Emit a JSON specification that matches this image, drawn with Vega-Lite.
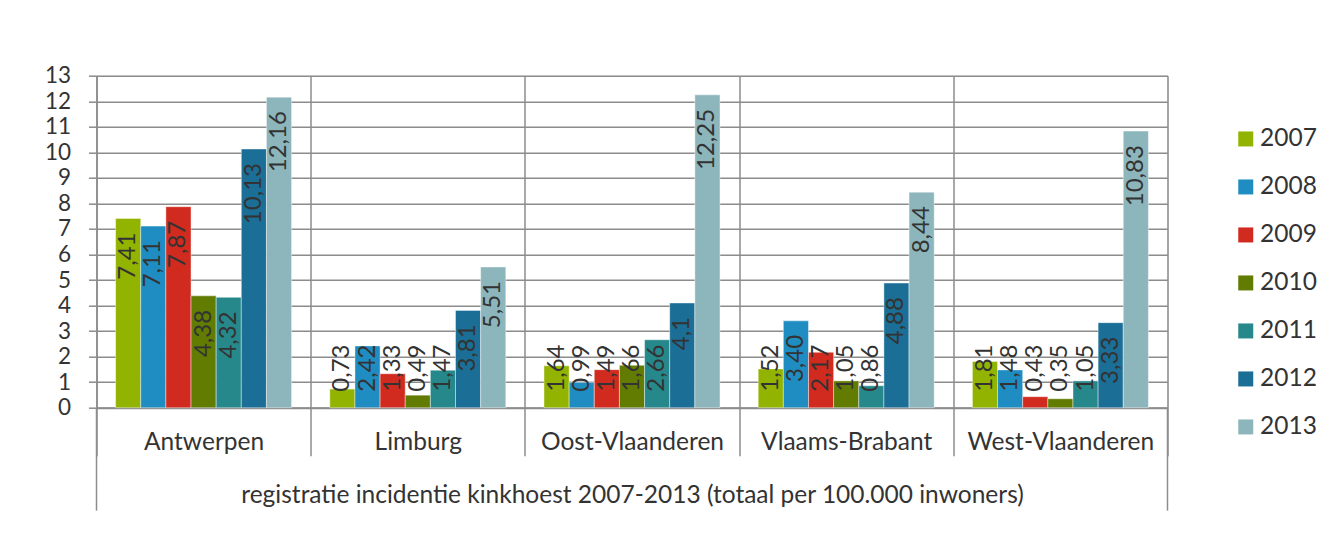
{
  "$schema": "https://vega.github.io/schema/vega-lite/v6.json",
  "autosize": {"type": "none"},
  "width": 1071,
  "height": 332,
  "padding": {"left": 96.5, "top": 75.7, "right": 154.5, "bottom": 134.3},
  "background": "white",
  "title": {
    "text": "kinkhoest",
    "anchor": "start",
    "frame": "group",
    "orient": "top",
    "dx": -85,
    "offset": 59,
    "font": "Lato",
    "fontSize": 22,
    "fontWeight": "normal",
    "color": "#2E8BCF",
    "baseline": "alphabetic"
  },
  "data": {
    "values": [
      {"regio": "Antwerpen", "jaar": "2007", "waarde": 7.41, "label": "7,41"},
      {"regio": "Antwerpen", "jaar": "2008", "waarde": 7.11, "label": "7,11"},
      {"regio": "Antwerpen", "jaar": "2009", "waarde": 7.87, "label": "7,87"},
      {"regio": "Antwerpen", "jaar": "2010", "waarde": 4.38, "label": "4,38"},
      {"regio": "Antwerpen", "jaar": "2011", "waarde": 4.32, "label": "4,32"},
      {"regio": "Antwerpen", "jaar": "2012", "waarde": 10.13, "label": "10,13"},
      {"regio": "Antwerpen", "jaar": "2013", "waarde": 12.16, "label": "12,16"},
      {"regio": "Limburg", "jaar": "2007", "waarde": 0.73, "label": "0,73"},
      {"regio": "Limburg", "jaar": "2008", "waarde": 2.42, "label": "2,42"},
      {"regio": "Limburg", "jaar": "2009", "waarde": 1.33, "label": "1,33"},
      {"regio": "Limburg", "jaar": "2010", "waarde": 0.49, "label": "0,49"},
      {"regio": "Limburg", "jaar": "2011", "waarde": 1.47, "label": "1,47"},
      {"regio": "Limburg", "jaar": "2012", "waarde": 3.81, "label": "3,81"},
      {"regio": "Limburg", "jaar": "2013", "waarde": 5.51, "label": "5,51"},
      {"regio": "Oost-Vlaanderen", "jaar": "2007", "waarde": 1.64, "label": "1,64"},
      {"regio": "Oost-Vlaanderen", "jaar": "2008", "waarde": 0.99, "label": "0,99"},
      {"regio": "Oost-Vlaanderen", "jaar": "2009", "waarde": 1.49, "label": "1,49"},
      {"regio": "Oost-Vlaanderen", "jaar": "2010", "waarde": 1.66, "label": "1,66"},
      {"regio": "Oost-Vlaanderen", "jaar": "2011", "waarde": 2.66, "label": "2,66"},
      {"regio": "Oost-Vlaanderen", "jaar": "2012", "waarde": 4.1, "label": "4,1"},
      {"regio": "Oost-Vlaanderen", "jaar": "2013", "waarde": 12.25, "label": "12,25"},
      {"regio": "Vlaams-Brabant", "jaar": "2007", "waarde": 1.52, "label": "1,52"},
      {"regio": "Vlaams-Brabant", "jaar": "2008", "waarde": 3.40, "label": "3,40"},
      {"regio": "Vlaams-Brabant", "jaar": "2009", "waarde": 2.17, "label": "2,17"},
      {"regio": "Vlaams-Brabant", "jaar": "2010", "waarde": 1.05, "label": "1,05"},
      {"regio": "Vlaams-Brabant", "jaar": "2011", "waarde": 0.86, "label": "0,86"},
      {"regio": "Vlaams-Brabant", "jaar": "2012", "waarde": 4.88, "label": "4,88"},
      {"regio": "Vlaams-Brabant", "jaar": "2013", "waarde": 8.44, "label": "8,44"},
      {"regio": "West-Vlaanderen", "jaar": "2007", "waarde": 1.81, "label": "1,81"},
      {"regio": "West-Vlaanderen", "jaar": "2008", "waarde": 1.48, "label": "1,48"},
      {"regio": "West-Vlaanderen", "jaar": "2009", "waarde": 0.43, "label": "0,43"},
      {"regio": "West-Vlaanderen", "jaar": "2010", "waarde": 0.35, "label": "0,35"},
      {"regio": "West-Vlaanderen", "jaar": "2011", "waarde": 1.05, "label": "1,05"},
      {"regio": "West-Vlaanderen", "jaar": "2012", "waarde": 3.33, "label": "3,33"},
      {"regio": "West-Vlaanderen", "jaar": "2013", "waarde": 10.83, "label": "10,83"}
    ]
  },
  "layer": [
    {
      "encoding": {
        "x": {
          "field": "regio",
          "type": "nominal",
          "sort": null,
          "scale": {"paddingInner": 0, "paddingOuter": 0},
          "axis": {
            "title": "registratie incidentie kinkhoest 2007-2013 (totaal per 100.000 inwoners)",
            "titleFont": "Lato",
            "titleFontSize": 24.5,
            "titleFontWeight": "normal",
            "titleColor": "#333333",
            "titlePadding": 27,
            "labelAngle": 0,
            "labelFont": "Lato",
            "labelFontSize": 24.5,
            "labelColor": "#333333",
            "labelPadding": -25,
            "labelBaseline": "top",
            "labelLimit": 0,
            "labelOverlap": false,
            "tickBand": "extent",
            "tickSize": 48,
            "tickColor": "#8c8c8c",
            "tickWidth": 1.5,
            "grid": true,
            "gridColor": "#8c8c8c",
            "gridWidth": 1.5,
            "domainColor": "#8c8c8c",
            "domainWidth": 2
          }
        },
        "y": {
          "field": "waarde",
          "type": "quantitative",
          "scale": {"domain": [0, 13], "nice": false, "zero": true},
          "axis": {
            "title": null,
            "values": [0, 1, 2, 3, 4, 5, 6, 7, 8, 9, 10, 11, 12, 13],
            "labelFont": "Lato",
            "labelFontSize": 22.5,
            "labelColor": "#333333",
            "labelPadding": 18,
            "labelOverlap": false,
            "labelFlush": false,
            "tickSize": 8,
            "tickColor": "#8c8c8c",
            "tickWidth": 1.5,
            "grid": true,
            "gridColor": "#8c8c8c",
            "gridWidth": 1.5,
            "domainColor": "#8c8c8c",
            "domainWidth": 1.5
          }
        }
      },
      "layer": [
        {
          "mark": {"type": "bar", "stroke": "#ffffff", "strokeWidth": 0.6, "strokeOpacity": 0.7},
          "encoding": {
            "xOffset": {
              "field": "jaar",
              "type": "nominal",
              "scale": {"paddingInner": 0, "paddingOuter": 0.76}
            },
            "color": {
              "field": "jaar",
              "type": "nominal",
              "scale": {
                "domain": ["2007", "2008", "2009", "2010", "2011", "2012", "2013"],
                "range": ["#92B400", "#1F8DC1", "#D02B1E", "#617C00", "#26888A", "#1B6E96", "#8CB6BB"]
              },
              "legend": {
                "title": null,
                "orient": "none",
                "legendX": 1137,
                "legendY": 51,
                "symbolType": "square",
                "symbolSize": 225,
                "symbolStrokeWidth": 0,
                "labelFont": "Lato",
                "labelFontSize": 24.5,
                "labelColor": "#333333",
                "labelOffset": 2,
                "rowPadding": 23
              }
            }
          }
        },
        {
          "transform": [{"filter": "datum.waarde >= 3"}],
          "mark": {
            "type": "text",
            "angle": 270,
            "align": "right",
            "baseline": "middle",
            "dx": -14,
            "font": "Lato",
            "fontSize": 24,
            "color": "#333333"
          },
          "encoding": {
            "xOffset": {"field": "jaar", "type": "nominal"},
            "text": {"field": "label"}
          }
        },
        {
          "transform": [{"filter": "datum.waarde < 3"}],
          "mark": {
            "type": "text",
            "angle": 270,
            "align": "left",
            "baseline": "middle",
            "dx": 16,
            "font": "Lato",
            "fontSize": 24,
            "color": "#333333"
          },
          "encoding": {
            "xOffset": {"field": "jaar", "type": "nominal"},
            "y": {"datum": 0},
            "text": {"field": "label"}
          }
        }
      ]
    },
    {
      "data": {"values": [{"regio": "Antwerpen"}]},
      "mark": {"type": "rule", "color": "#8c8c8c", "strokeWidth": 1.5},
      "encoding": {
        "x": {
          "field": "regio",
          "type": "nominal",
          "sort": null,
          "bandPosition": 0,
          "scale": {"paddingInner": 0, "paddingOuter": 0},
          "axis": {
            "title": "registratie incidentie kinkhoest 2007-2013 (totaal per 100.000 inwoners)",
            "titleFont": "Lato",
            "titleFontSize": 24.5,
            "titleFontWeight": "normal",
            "titleColor": "#333333",
            "titlePadding": 27,
            "labelAngle": 0,
            "labelFont": "Lato",
            "labelFontSize": 24.5,
            "labelColor": "#333333",
            "labelPadding": -25,
            "labelBaseline": "top",
            "labelLimit": 0,
            "labelOverlap": false,
            "tickBand": "extent",
            "tickSize": 48,
            "tickColor": "#8c8c8c",
            "tickWidth": 1.5,
            "grid": true,
            "gridColor": "#8c8c8c",
            "gridWidth": 1.5,
            "domainColor": "#8c8c8c",
            "domainWidth": 2
          }
        },
        "y": {
          "datum": 0,
          "type": "quantitative",
          "scale": {"domain": [0, 13], "nice": false, "zero": true},
          "axis": {
            "title": null,
            "values": [0, 1, 2, 3, 4, 5, 6, 7, 8, 9, 10, 11, 12, 13],
            "labelFont": "Lato",
            "labelFontSize": 22.5,
            "labelColor": "#333333",
            "labelPadding": 18,
            "labelOverlap": false,
            "labelFlush": false,
            "tickSize": 8,
            "tickColor": "#8c8c8c",
            "tickWidth": 1.5,
            "grid": true,
            "gridColor": "#8c8c8c",
            "gridWidth": 1.5,
            "domainColor": "#8c8c8c",
            "domainWidth": 1.5
          }
        },
        "y2": {"datum": -4.03}
      }
    },
    {
      "data": {"values": [{"regio": "West-Vlaanderen"}]},
      "mark": {"type": "rule", "color": "#8c8c8c", "strokeWidth": 1.5},
      "encoding": {
        "x": {
          "field": "regio",
          "type": "nominal",
          "sort": null,
          "bandPosition": 1,
          "scale": {"paddingInner": 0, "paddingOuter": 0},
          "axis": {
            "title": "registratie incidentie kinkhoest 2007-2013 (totaal per 100.000 inwoners)",
            "titleFont": "Lato",
            "titleFontSize": 24.5,
            "titleFontWeight": "normal",
            "titleColor": "#333333",
            "titlePadding": 27,
            "labelAngle": 0,
            "labelFont": "Lato",
            "labelFontSize": 24.5,
            "labelColor": "#333333",
            "labelPadding": -25,
            "labelBaseline": "top",
            "labelLimit": 0,
            "labelOverlap": false,
            "tickBand": "extent",
            "tickSize": 48,
            "tickColor": "#8c8c8c",
            "tickWidth": 1.5,
            "grid": true,
            "gridColor": "#8c8c8c",
            "gridWidth": 1.5,
            "domainColor": "#8c8c8c",
            "domainWidth": 2
          }
        },
        "y": {
          "datum": 0,
          "type": "quantitative",
          "scale": {"domain": [0, 13], "nice": false, "zero": true},
          "axis": {
            "title": null,
            "values": [0, 1, 2, 3, 4, 5, 6, 7, 8, 9, 10, 11, 12, 13],
            "labelFont": "Lato",
            "labelFontSize": 22.5,
            "labelColor": "#333333",
            "labelPadding": 18,
            "labelOverlap": false,
            "labelFlush": false,
            "tickSize": 8,
            "tickColor": "#8c8c8c",
            "tickWidth": 1.5,
            "grid": true,
            "gridColor": "#8c8c8c",
            "gridWidth": 1.5,
            "domainColor": "#8c8c8c",
            "domainWidth": 1.5
          }
        },
        "y2": {"datum": -4.03}
      }
    }
  ]
}
